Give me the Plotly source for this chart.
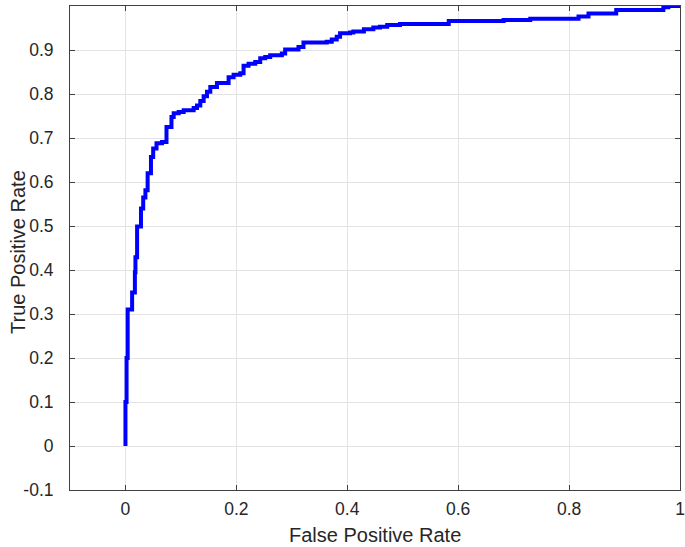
import plotly.graph_objects as go

# ROC curve vertices (step curve, horizontal then vertical)
fpr = [0.000, 0.000, 0.002, 0.004, 0.012, 0.017, 0.018, 0.021, 0.028, 0.032,
       0.036, 0.040, 0.046, 0.050, 0.056, 0.066, 0.074, 0.083, 0.087, 0.096,
       0.105, 0.123, 0.129, 0.135, 0.141, 0.147, 0.153, 0.165, 0.186, 0.195,
       0.207, 0.213, 0.222, 0.234, 0.243, 0.252, 0.261, 0.282, 0.288, 0.312,
       0.321, 0.363, 0.372, 0.381, 0.387, 0.405, 0.411, 0.430, 0.447, 0.459,
       0.472, 0.495, 0.583, 0.682, 0.730, 0.817, 0.835, 0.885, 0.970, 0.979,
       1.000]
tpr = [0.000, 0.100, 0.200, 0.310, 0.349, 0.395, 0.429, 0.499, 0.540, 0.565,
       0.581, 0.620, 0.657, 0.676, 0.688, 0.691, 0.725, 0.748, 0.756, 0.759,
       0.763, 0.768, 0.774, 0.784, 0.795, 0.805, 0.816, 0.825, 0.838, 0.844,
       0.847, 0.864, 0.869, 0.873, 0.881, 0.884, 0.888, 0.892, 0.901, 0.907,
       0.917, 0.919, 0.924, 0.930, 0.938, 0.940, 0.942, 0.947, 0.951, 0.953,
       0.957, 0.959, 0.966, 0.968, 0.971, 0.976, 0.983, 0.991, 0.997, 1.000,
       1.000]

x_ticks = [0, 0.2, 0.4, 0.6, 0.8, 1.0]
x_tick_labels = ["0", "0.2", "0.4", "0.6", "0.8", "1"]
y_ticks = [-0.1, 0, 0.1, 0.2, 0.3, 0.4, 0.5, 0.6, 0.7, 0.8, 0.9]
y_tick_labels = ["-0.1", "0", "0.1", "0.2", "0.3", "0.4", "0.5", "0.6", "0.7", "0.8", "0.9"]
x_title = "False Positive Rate"
y_title = "True Positive Rate"

text_color = "#262626"
axis_color = "#404040"
grid_color = "#e3e3e3"
font_family = "Liberation Sans, Arial, sans-serif"

fig = go.Figure()
fig.add_trace(go.Scatter(
    x=fpr, y=tpr, mode="lines",
    line=dict(color="#0000ff", width=4, shape="hv"),
    showlegend=False, hoverinfo="skip",
))

fig.update_layout(
    width=685, height=547,
    margin=dict(l=70, r=5, t=6, b=57),
    paper_bgcolor="white", plot_bgcolor="white",
    font=dict(family=font_family, size=17.5, color=text_color),
    annotations=[
        dict(text=x_title, xref="paper", yref="paper", x=0.5, y=0,
             xanchor="center", yanchor="middle", yshift=-45, showarrow=False,
             font=dict(size=20, color=text_color)),
        dict(text=y_title, xref="paper", yref="paper", x=0, y=0.5,
             xanchor="center", yanchor="middle", xshift=-52, yshift=-4,
             textangle=-90, showarrow=False,
             font=dict(size=20, color=text_color)),
    ],
)
fig.update_xaxes(
    range=[-0.1, 1.0], tickvals=x_ticks, ticktext=x_tick_labels,
    automargin=False,
    showgrid=True, gridcolor=grid_color, gridwidth=1,
    showline=True, linecolor=axis_color, linewidth=1, mirror="ticks",
    ticks="inside", ticklen=5, tickcolor=axis_color,
    zeroline=False, ticklabelstandoff=3,
    tickfont=dict(size=17.5),
)
fig.update_yaxes(
    range=[-0.1, 1.0], tickvals=y_ticks, ticktext=y_tick_labels,
    automargin=False,
    showgrid=True, gridcolor=grid_color, gridwidth=1,
    showline=True, linecolor=axis_color, linewidth=1, mirror="ticks",
    ticks="inside", ticklen=5, tickcolor=axis_color,
    zeroline=False, ticklabelstandoff=12,
    tickfont=dict(size=17.5),
)

fig.write_html("out.html", config={"displayModeBar": False},
               post_script="document.body.style.margin='0';")
